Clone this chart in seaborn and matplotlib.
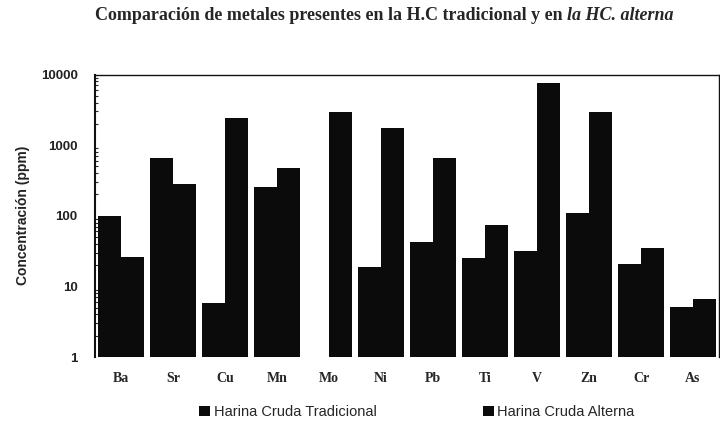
import numpy as np
import pandas as pd
import matplotlib
matplotlib.use("Agg")
import matplotlib.pyplot as plt
import seaborn as sns

# Metal concentrations (ppm) in the two raw meals
metales = ["Ba", "Sr", "Cu", "Mn", "Mo", "Ni", "Pb", "Ti", "V", "Zn", "Cr", "As"]
tradicional = [100, 660, 5.8, 255, np.nan, 19, 43, 25, 32, 110, 21, 5.1]
alterna = [26, 280, 2450, 480, 2990, 1770, 650, 75, 7700, 2900, 35, 6.6]
series = ["Harina Cruda Tradicional", "Harina Cruda Alterna"]
yticks = [1, 10, 100, 1000, 10000]

df = pd.DataFrame({
    "metal": metales * 2,
    "ppm": tradicional + alterna,
    "serie": [series[0]] * len(metales) + [series[1]] * len(metales),
})

sns.set_style("white")
plt.rcParams["font.family"] = ["Liberation Sans", "DejaVu Sans"]

fig = plt.figure(figsize=(7.2, 4.29), dpi=100)
ax = fig.add_axes([95 / 720, 1 - 357 / 429, 624 / 720, 282.5 / 429])

sns.barplot(data=df, x="metal", y="ppm", hue="serie", order=metales,
            hue_order=series, palette=["#0b0b0b", "#0b0b0b"],
            width=0.88, errorbar=None, saturation=1, linewidth=0,
            ax=ax, legend=True)

ax.set_yscale("log")
ax.set_ylim(1, 10000)
ax.set_xlim(-0.5, len(metales) - 0.5)
ax.set_yticks(yticks)
ax.set_yticklabels([str(v) for v in yticks], fontsize=9.5, fontweight="bold",
                   color="#222222")
ax.set_xticks(range(len(metales)))
ax.set_xticklabels(metales, family=["Liberation Serif", "DejaVu Serif"],
                   fontsize=10, fontweight="bold")
ax.tick_params(axis="x", length=0, pad=11)
ax.tick_params(axis="y", which="major", direction="inout", length=5,
               width=1, pad=10)
ax.tick_params(axis="y", which="minor", direction="in", length=2,
               width=0.8, left=True)
ax.set_xlabel("")
ax.set_ylabel("Concentración (ppm)", fontsize=10, fontweight="bold",
              color="#222222", labelpad=8)

for side in ["left", "top", "right"]:
    ax.spines[side].set_visible(True)
    ax.spines[side].set_color("#111111")
ax.spines["left"].set_linewidth(1.5)
ax.spines["top"].set_linewidth(1.0)
ax.spines["right"].set_linewidth(1.0)
ax.spines["bottom"].set_visible(False)

# Legend below the plot
handles, labels = ax.get_legend_handles_labels()
ax.get_legend().remove()
fig.legend(handles, labels, ncol=2, frameon=False, loc="center left",
           bbox_to_anchor=(199 / 720, 1 - 412 / 429),
           bbox_transform=fig.transFigure, fontsize=10.5,
           handlelength=0.75, handleheight=0.75, handletextpad=0.25,
           columnspacing=7.3, borderpad=0, borderaxespad=0)

# Title: upright bold part followed by an italic bold part
serif = ["Liberation Serif", "DejaVu Serif"]
t1 = fig.text(95 / 720, 1 - 16 / 429,
              "Comparación de metales presentes en la H.C tradicional y en ",
              family=serif, fontsize=13, fontweight="bold", ha="left",
              va="center")
fig.canvas.draw()
bb = t1.get_window_extent(renderer=fig.canvas.get_renderer())
x_end = bb.x1 / fig.bbox.width
fig.text(x_end, 1 - 16 / 429, "la HC. alterna", family=serif, fontsize=13,
         fontweight="bold", style="italic", ha="left", va="center")

fig.savefig("out.png", dpi=100)
